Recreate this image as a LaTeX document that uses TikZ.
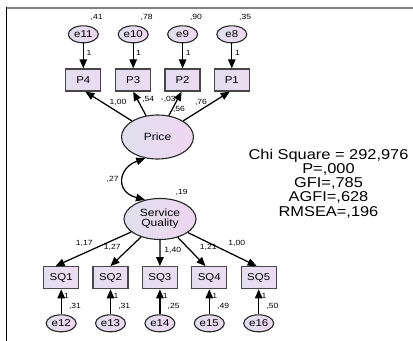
\documentclass[tikz,border=0pt]{standalone}
\usepackage{fontspec}
\setmainfont{Liberation Sans}[FakeStretch=1.15]
\usetikzlibrary{shapes.geometric,arrows.meta}

\definecolor{shadeL}{HTML}{DFE0EE}
\definecolor{shadeR}{HTML}{EFD6F0}
\definecolor{boxL}{HTML}{E3DEEF}
\definecolor{boxR}{HTML}{EDDBF2}

\begin{document}
\begin{tikzpicture}[x=1bp,y=-1bp,
  obs/.style={rectangle, draw=black!72, line width=1.3bp, minimum width=35bp,
    minimum height=22bp, inner sep=0pt, left color=boxL, right color=boxR,
    font=\fontsize{10}{11}\selectfont},
  err/.style={ellipse, draw=black!85, line width=1.1bp, minimum width=30bp,
    minimum height=17bp, inner sep=0pt, left color=shadeL, right color=shadeR,
    font=\fontsize{10}{11}\selectfont},
  lat/.style={ellipse, draw=black!85, line width=1.1bp, minimum width=72bp,
    inner sep=0pt, left color=shadeL, right color=shadeR, align=center,
    font=\fontsize{10.5}{11}\selectfont},
  arr/.style={-{Triangle[length=9bp,width=7.5bp]}, line width=1.25bp},
  covarr/.style={{Triangle[length=9bp,width=7.5bp]}-{Triangle[length=9bp,width=7.5bp]}, line width=1.25bp},
  lab/.style={inner sep=0pt, font=\fontsize{7.5}{8}\selectfont},
  fitstats/.style={inner sep=0pt, align=center, font=\fontsize{14.3}{14.25}\selectfont}
]
\useasboundingbox (0,0) rectangle (413,341);

% page frame (top and left rules)
\draw[gray, line width=2bp] (6,7.5) -- (413,7.5);
\draw[black, line width=1.5bp] (6.5,6.5) -- (6.5,341);

% Price indicators and their error terms
\foreach \x/\v/\e in {83.3/{,41}/e11, 133.2/{,78}/e10, 182.6/{,90}/e9, 231.8/{,35}/e8}{
  \node[err] (\e) at (\x,34.3) {\e};
  \node[lab] (v\e) at (\x+13.4,17.7) {\v};
}
\node[obs] (p4) at (83.3,80) {P4};
\node[obs] (p3) at (133.2,80) {P3};
\node[obs] (p2) at (182.6,80) {P2};
\node[obs] (p1) at (231.8,80) {P1};

\draw[arr] (e11) -- (p4);
\draw[arr] (e10) -- (p3);
\draw[arr] (e9) -- (p2);
\draw[arr] (e8) -- (p1);
\node[lab] (w11) at (89,52.7) {1};
\node[lab] (w10) at (138.6,52.7) {1};
\node[lab] (w9) at (188.2,52.7) {1};
\node[lab] (w8) at (237.4,52.7) {1};

% latent variables
\node[lat, minimum height=44bp] (price) at (157.5,137) {Price};
\node[lat, minimum height=41bp] (squal) at (160,219) {Service\\[-1.5bp]Quality};

\draw[arr] (price) -- (p4.-80);
\draw[arr] (price) -- (p3.south);
\draw[arr] (price) -- (p2.-95);
\draw[arr] (price) -- (p1.-100);
\node[lab] (l4) at (118,102) {1,00};
\node[lab] (l3) at (148.3,99) {,54};
\node[lab] (l2) at (168.3,99) {-,03};
\node[lab] (l2b) at (179,109.3) {,56};
\node[lab] (l1) at (201,102) {,76};

% covariance between the latent variables
\draw[covarr] (price.240) .. controls (118,168) and (115,192) .. (squal.128);
\node[lab] (cov) at (112.7,179) {,27};
\node[lab] (vsq) at (181.7,192.7) {,19};

% Service Quality indicators and their error terms
\foreach \n/\t/\x/\e/\v in {sq1/SQ1/61.2/e12/{,31}, sq2/SQ2/110.5/e13/{,31}, sq3/SQ3/159.9/e14/{,25}, sq4/SQ4/209.3/e15/{,49}, sq5/SQ5/258.7/e16/{,50}}{
  \node[obs] (\n) at (\x,277.7) {\t};
  \node[err] (\e) at (\x,323.3) {\e};
  \draw[arr] (\e) -- (\n);
  \node[lab] (w\e) at (\x+5.4,296) {1};
  \node[lab] (v\e) at (\x+13.8,306) {\v};
}

\draw[arr] (squal) -- (sq1.116);
\draw[arr] (squal) -- (sq2.north);
\draw[arr] (squal) -- (sq3.north);
\draw[arr] (squal) -- (sq4.108);
\draw[arr] (squal) -- (sq5.100);
\node[lab] (m1) at (84.3,243.3) {1,17};
\node[lab] (m2) at (112.3,247.3) {1,27};
\node[lab] (m3) at (172.7,250.7) {1,40};
\node[lab] (m4) at (208.3,247.3) {1,21};
\node[lab] (m5) at (236.7,243.3) {1,00};

% model fit summary
\node[fitstats] (fit) at (328.5,183.5) {Chi Square = 292,976\\P=,000\\GFI=,785\\AGFI=,628\\RMSEA=,196};
\end{tikzpicture}
\end{document}
